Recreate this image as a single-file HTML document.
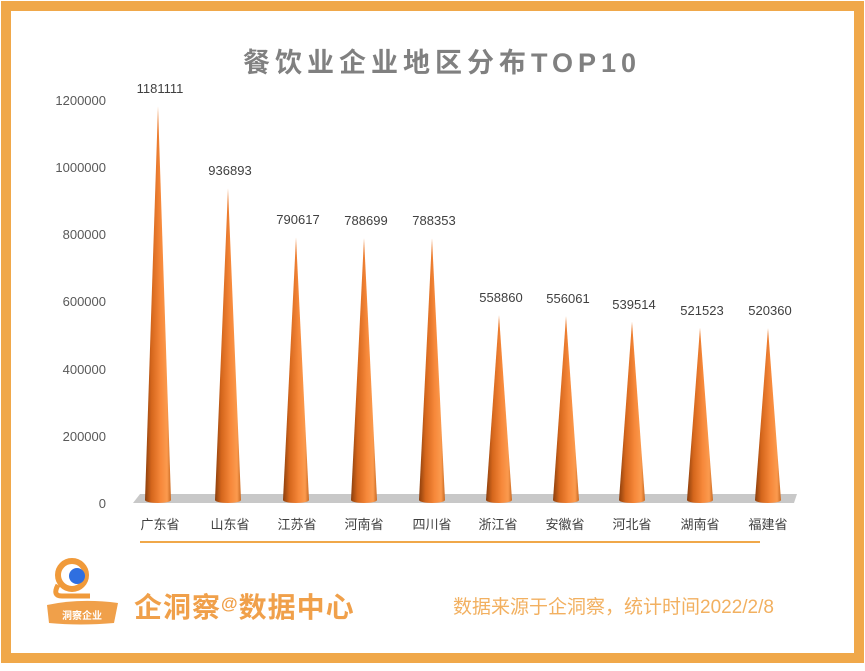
<!DOCTYPE html>
<html><head><meta charset="utf-8"><style>
html,body{margin:0;padding:0;background:#fff}
body{width:865px;height:666px;overflow:hidden}
text{font-family:"Liberation Sans","Noto Sans CJK SC",sans-serif}
</style></head><body>
<svg width="865" height="666" viewBox="0 0 865 666" xmlns="http://www.w3.org/2000/svg">
<defs>
<linearGradient id="cg" x1="0" x2="1" y1="0" y2="0">
<stop offset="0" stop-color="#8a3e0c"/>
<stop offset="0.25" stop-color="#d5661c"/>
<stop offset="0.6" stop-color="#f6883a"/>
<stop offset="0.85" stop-color="#fb9a4e"/>
<stop offset="1" stop-color="#c96a22"/>
</linearGradient>
</defs>
<rect x="0" y="0" width="865" height="666" fill="#fff"/>
<rect x="6" y="6" width="853" height="652" fill="none" stroke="#f0a84a" stroke-width="10"/>
<text x="442" y="72" text-anchor="middle" font-size="27" font-weight="bold" fill="#808080" letter-spacing="5">餐饮业企业地区分布TOP10</text>
<g font-size="13" fill="#595959" text-anchor="end">
<text x="106" y="508">0</text>
<text x="106" y="441">200000</text>
<text x="106" y="374">400000</text>
<text x="106" y="306">600000</text>
<text x="106" y="239">800000</text>
<text x="106" y="172">1000000</text>
<text x="106" y="105">1200000</text>
</g>
<polygon points="140,494 797,494 794,503 133,503" fill="#c8c8c8"/>
<g fill="url(#cg)">
<path d="M145 500 L158 106.3 L171 500 A13 3 0 0 1 145 500 Z"/>
<path d="M215 500 L228 188.4 L241 500 A13 3 0 0 1 215 500 Z"/>
<path d="M283 500 L296 237.5 L309 500 A13 3 0 0 1 283 500 Z"/>
<path d="M351 500 L364 238.1 L377 500 A13 3 0 0 1 351 500 Z"/>
<path d="M419 500 L432 238.2 L445 500 A13 3 0 0 1 419 500 Z"/>
<path d="M486 500 L499 315.3 L512 500 A13 3 0 0 1 486 500 Z"/>
<path d="M553 500 L566 316.3 L579 500 A13 3 0 0 1 553 500 Z"/>
<path d="M619 500 L632 321.8 L645 500 A13 3 0 0 1 619 500 Z"/>
<path d="M687 500 L700 327.9 L713 500 A13 3 0 0 1 687 500 Z"/>
<path d="M755 500 L768 328.2 L781 500 A13 3 0 0 1 755 500 Z"/>
</g>
<g font-size="13" fill="#404040" text-anchor="middle">
<text x="160" y="93">1181111</text>
<text x="230" y="175">936893</text>
<text x="298" y="224">790617</text>
<text x="366" y="225">788699</text>
<text x="434" y="225">788353</text>
<text x="501" y="302">558860</text>
<text x="568" y="303">556061</text>
<text x="634" y="309">539514</text>
<text x="702" y="315">521523</text>
<text x="770" y="315">520360</text>
</g>
<g font-size="13" fill="#404040" text-anchor="middle">
<text x="160" y="529">广东省</text><text x="230" y="529">山东省</text><text x="297" y="529">江苏省</text><text x="364" y="529">河南省</text><text x="432" y="529">四川省</text><text x="498" y="529">浙江省</text><text x="565" y="529">安徽省</text><text x="632" y="529">河北省</text><text x="700" y="529">湖南省</text><text x="768" y="529">福建省</text>
</g>
<line x1="140" y1="542" x2="760" y2="542" stroke="#f0a84a" stroke-width="2"/>
<circle cx="72" cy="575" r="14" fill="none" stroke="#f09a3a" stroke-width="6"/>
<path d="M58 585 Q52 596 62 596 L90 596" fill="none" stroke="#f09a3a" stroke-width="5"/>
<circle cx="77" cy="576" r="8" fill="#2f6fe0"/>
<path d="M47 605 Q80 598 118 603 L114 623 Q80 626 49 623 Z" fill="#f0a04a"/>
<text x="82" y="619" font-size="10" font-weight="bold" fill="#fff" text-anchor="middle">洞察企业</text>
<text x="134" y="617" font-size="28" font-weight="bold" fill="#f0a04a" letter-spacing="1">企洞察<tspan font-size="17" dy="-8">@</tspan><tspan dy="8">数据中心</tspan></text>
<text x="453" y="613" font-size="19" fill="#f2b060">数据来源于企洞察，统计时间2022/2/8</text>
</svg>
</body></html>
